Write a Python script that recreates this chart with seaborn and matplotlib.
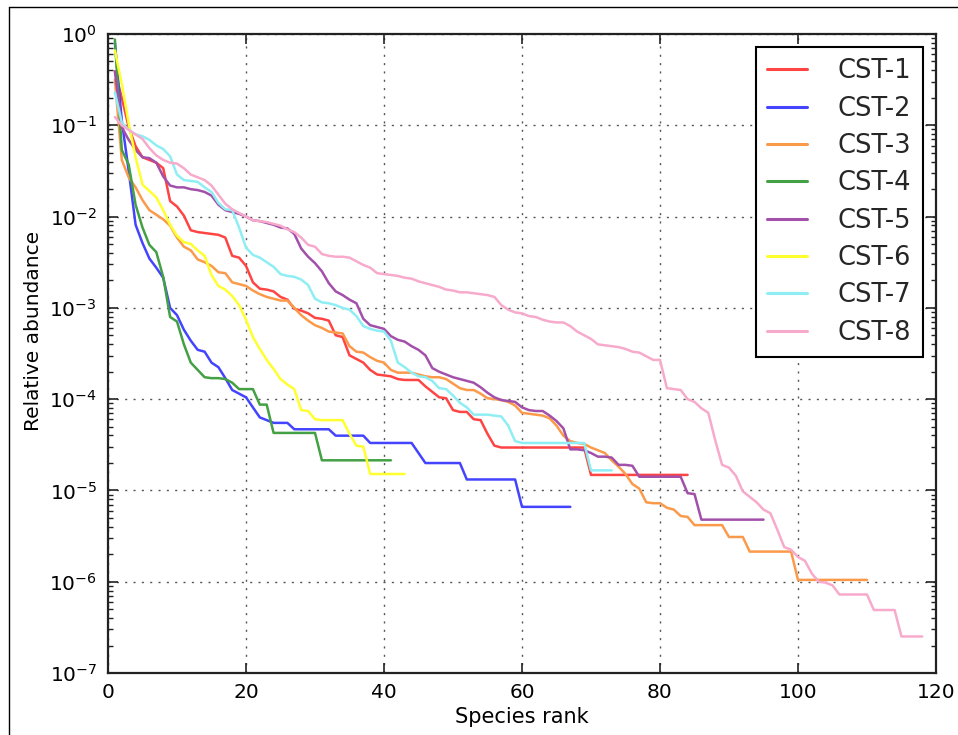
import numpy as np
import pandas as pd
import matplotlib
matplotlib.use("Agg")
import matplotlib.pyplot as plt
import seaborn as sns
from matplotlib.ticker import LogLocator, FuncFormatter, NullFormatter
from matplotlib.lines import Line2D

# Community state types and their rank-abundance curves (log10 of relative abundance,
# listed by species rank starting at 1)
series_names = ["CST-1", "CST-2", "CST-3", "CST-4", "CST-5", "CST-6", "CST-7", "CST-8"]

cst1_log10 = [
    -0.41, -0.70, -1.02, -1.23, -1.35, -1.38, -1.41, -1.47, -1.83, -1.89,
    -1.99, -2.15, -2.17, -2.18, -2.19, -2.20, -2.23, -2.43, -2.45, -2.54,
    -2.72, -2.79, -2.80, -2.82, -2.88, -2.91, -3.01, -3.03, -3.06, -3.11,
    -3.12, -3.14, -3.30, -3.32, -3.52, -3.56, -3.60, -3.68, -3.73, -3.74,
    -3.75, -3.78, -3.79, -3.79, -3.79, -3.86, -3.92, -3.98, -3.99, -4.12,
    -4.14, -4.14, -4.22, -4.23, -4.38, -4.51, -4.53, -4.53, -4.53, -4.53,
    -4.53, -4.53, -4.53, -4.53, -4.53, -4.53, -4.53, -4.53, -4.53, -4.83,
    -4.83, -4.83, -4.83, -4.83, -4.83, -4.83, -4.83, -4.83, -4.83, -4.83,
    -4.83, -4.83, -4.83, -4.83,
]

cst2_log10 = [
    -0.10, -0.95, -1.50, -2.09, -2.29, -2.46, -2.56, -2.67, -3.00, -3.08,
    -3.24, -3.36, -3.46, -3.48, -3.60, -3.65, -3.77, -3.90, -3.94, -3.98,
    -4.09, -4.20, -4.23, -4.26, -4.26, -4.26, -4.33, -4.33, -4.33, -4.33,
    -4.33, -4.33, -4.40, -4.40, -4.40, -4.40, -4.40, -4.48, -4.48, -4.48,
    -4.48, -4.48, -4.48, -4.48, -4.59, -4.70, -4.70, -4.70, -4.70, -4.70,
    -4.70, -4.88, -4.88, -4.88, -4.88, -4.88, -4.88, -4.88, -4.88, -5.18,
    -5.18, -5.18, -5.18, -5.18, -5.18, -5.18, -5.18,
]

cst3_log10 = [
    -0.50, -1.38, -1.57, -1.68, -1.82, -1.93, -1.98, -2.03, -2.10, -2.23,
    -2.33, -2.37, -2.47, -2.50, -2.54, -2.61, -2.62, -2.72, -2.74, -2.76,
    -2.81, -2.85, -2.88, -2.90, -2.92, -2.92, -3.00, -3.08, -3.14, -3.19,
    -3.22, -3.26, -3.27, -3.28, -3.42, -3.48, -3.49, -3.54, -3.58, -3.60,
    -3.68, -3.71, -3.71, -3.71, -3.73, -3.75, -3.76, -3.76, -3.78, -3.83,
    -3.88, -3.90, -3.90, -3.94, -3.99, -4.00, -4.01, -4.03, -4.07, -4.15,
    -4.16, -4.17, -4.18, -4.21, -4.29, -4.40, -4.46, -4.48, -4.49, -4.53,
    -4.56, -4.59, -4.67, -4.74, -4.82, -4.93, -4.98, -5.13, -5.14, -5.14,
    -5.19, -5.21, -5.28, -5.29, -5.38, -5.38, -5.38, -5.38, -5.38, -5.51,
    -5.51, -5.51, -5.67, -5.67, -5.67, -5.67, -5.67, -5.67, -5.67, -5.98,
    -5.98, -5.98, -5.98, -5.98, -5.98, -5.98, -5.98, -5.98, -5.98, -5.98,
]

cst4_log10 = [
    -0.06, -1.27, -1.43, -1.87, -2.12, -2.31, -2.39, -2.66, -3.10, -3.15,
    -3.40, -3.60, -3.68, -3.76, -3.77, -3.77, -3.78, -3.82, -3.89, -3.89,
    -3.89, -4.06, -4.06, -4.37, -4.37, -4.37, -4.37, -4.37, -4.37, -4.37,
    -4.67, -4.67, -4.67, -4.67, -4.67, -4.67, -4.67, -4.67, -4.67, -4.67,
    -4.67,
]

cst5_log10 = [
    -0.41, -1.02, -1.16, -1.27, -1.35, -1.36, -1.41, -1.56, -1.66, -1.68,
    -1.68, -1.70, -1.71, -1.73, -1.77, -1.87, -1.93, -1.95, -1.97, -2.00,
    -2.04, -2.05, -2.07, -2.09, -2.12, -2.13, -2.19, -2.35, -2.44, -2.51,
    -2.60, -2.73, -2.82, -2.86, -2.91, -2.95, -3.12, -3.19, -3.21, -3.23,
    -3.31, -3.35, -3.37, -3.42, -3.46, -3.52, -3.66, -3.70, -3.73, -3.76,
    -3.78, -3.80, -3.82, -3.87, -3.93, -3.98, -4.01, -4.02, -4.03, -4.09,
    -4.12, -4.13, -4.13, -4.18, -4.24, -4.32, -4.55, -4.55, -4.56, -4.59,
    -4.63, -4.63, -4.64, -4.72, -4.72, -4.73, -4.85, -4.85, -4.85, -4.85,
    -4.85, -4.85, -4.85, -5.03, -5.04, -5.32, -5.32, -5.32, -5.32, -5.32,
    -5.32, -5.32, -5.32, -5.32, -5.32,
]

cst6_log10 = [
    -0.18, -0.55, -0.98, -1.35, -1.65, -1.72, -1.79, -1.93, -2.09, -2.21,
    -2.28, -2.30, -2.37, -2.43, -2.64, -2.76, -2.80, -2.87, -2.97, -3.13,
    -3.32, -3.45, -3.57, -3.67, -3.78, -3.84, -3.89, -4.12, -4.13, -4.22,
    -4.23, -4.23, -4.23, -4.23, -4.38, -4.51, -4.52, -4.82, -4.82, -4.82,
    -4.82, -4.82, -4.82,
]

cst7_log10 = [
    -0.64, -0.97, -1.05, -1.10, -1.12, -1.16, -1.22, -1.26, -1.34, -1.54,
    -1.60, -1.61, -1.62, -1.68, -1.73, -1.85, -1.92, -1.93, -2.12, -2.34,
    -2.42, -2.45, -2.50, -2.55, -2.63, -2.65, -2.66, -2.69, -2.75, -2.90,
    -2.94, -2.95, -2.97, -3.00, -3.02, -3.09, -3.20, -3.23, -3.25, -3.26,
    -3.36, -3.60, -3.65, -3.71, -3.75, -3.76, -3.80, -3.88, -3.89, -3.96,
    -4.04, -4.09, -4.17, -4.17, -4.17, -4.18, -4.19, -4.29, -4.46, -4.48,
    -4.48, -4.48, -4.48, -4.48, -4.48, -4.48, -4.48, -4.48, -4.48, -4.78,
    -4.78, -4.78, -4.78,
]

cst8_log10 = [
    -0.91, -1.00, -1.05, -1.10, -1.15, -1.25, -1.33, -1.38, -1.41, -1.42,
    -1.47, -1.54, -1.57, -1.60, -1.66, -1.76, -1.86, -1.92, -1.96, -2.00,
    -2.04, -2.05, -2.06, -2.08, -2.10, -2.14, -2.17, -2.23, -2.31, -2.33,
    -2.41, -2.43, -2.44, -2.44, -2.45, -2.49, -2.53, -2.56, -2.62, -2.63,
    -2.64, -2.65, -2.67, -2.68, -2.71, -2.73, -2.75, -2.77, -2.80, -2.81,
    -2.83, -2.83, -2.84, -2.85, -2.86, -2.88, -2.97, -3.02, -3.05, -3.06,
    -3.09, -3.10, -3.13, -3.15, -3.16, -3.16, -3.20, -3.26, -3.30, -3.34,
    -3.40, -3.41, -3.42, -3.43, -3.45, -3.48, -3.49, -3.53, -3.57, -3.57,
    -3.88, -3.89, -3.90, -4.00, -4.03, -4.10, -4.15, -4.45, -4.72, -4.75,
    -4.84, -5.01, -5.07, -5.13, -5.21, -5.25, -5.43, -5.62, -5.65, -5.73,
    -5.77, -5.91, -6.00, -6.01, -6.04, -6.14, -6.14, -6.14, -6.14, -6.14,
    -6.31, -6.31, -6.31, -6.31, -6.60, -6.60, -6.60, -6.60,
]

series_log10 = [cst1_log10, cst2_log10, cst3_log10, cst4_log10,
                cst5_log10, cst6_log10, cst7_log10, cst8_log10]

line_colors = ["#FF4444", "#4444FF", "#FA9A4A", "#44A044",
               "#A250AA", "#FFFF30", "#8EEEF4", "#F7AACB"]

x_ticks = [0, 20, 40, 60, 80, 100, 120]

# Long-form table: one row per (group, rank)
frames = []
for name, vals in zip(series_names, series_log10):
    frames.append(pd.DataFrame({
        "rank": np.arange(1, len(vals) + 1),
        "abundance": np.power(10.0, np.asarray(vals)),
        "group": name,
    }))
df = pd.concat(frames, ignore_index=True)

sns.set_theme(style="ticks")
plt.rcParams["font.family"] = ["DejaVu Sans"]
plt.rcParams["mathtext.fontset"] = "dejavusans"

W, H = 958, 735
fig = plt.figure(figsize=(W / 100, H / 100), dpi=100)
fig.patch.set_facecolor("white")
ax_left, ax_right, ax_top, ax_bottom = 108, 936, 34, 673
ax = fig.add_axes([ax_left / W, 1 - ax_bottom / H,
                   (ax_right - ax_left) / W, (ax_bottom - ax_top) / H])
ax.set_facecolor("white")

sns.lineplot(data=df, x="rank", y="abundance", hue="group",
             hue_order=series_names, palette=dict(zip(series_names, line_colors)),
             estimator=None, sort=False, linewidth=1.8, ax=ax, zorder=3)

ax.set_yscale("log")
ax.set_ylim(1e-7, 1)
ax.set_xlim(0, 120)
ax.set_xticks(x_ticks)
ax.yaxis.set_major_locator(LogLocator(base=10, numticks=20))
ax.yaxis.set_minor_locator(LogLocator(base=10, subs=np.arange(2, 10), numticks=100))
ax.yaxis.set_minor_formatter(NullFormatter())
ax.yaxis.set_major_formatter(FuncFormatter(lambda v, p: r"$10^{%d}$" % round(np.log10(v))))

ax.tick_params(which="both", direction="in", top=True, right=True,
               color="#222222", labelcolor="black")
ax.tick_params(which="major", length=7, width=1.2, labelsize=14.5)
ax.tick_params(which="minor", length=3.5, width=1.0)
ax.tick_params(axis="x", which="major", pad=7)
ax.tick_params(axis="y", which="major", pad=8)
for sp in ax.spines.values():
    sp.set_linewidth(1.6)
    sp.set_color("#222222")

ax.grid(True, which="major", color="#555555", linewidth=1.0,
        linestyle=(0, (1.5, 4.5)), zorder=0)
ax.set_axisbelow(True)

ax.set_xlabel("Species rank", fontsize=15, color="black")
ax.set_ylabel("Relative abundance", fontsize=14.5, color="black")
ax.xaxis.set_label_coords(0.5, -0.053)
ax.yaxis.set_label_coords(-0.078, 0.535)

handles, labels = ax.get_legend_handles_labels()
pairs = [(h, l) for h, l in zip(handles, labels) if l in series_names]
leg = ax.legend([p[0] for p in pairs], [p[1] for p in pairs],
                loc="upper right", fontsize=18.5, frameon=True, fancybox=False,
                framealpha=1, edgecolor="black", handlelength=1.55,
                handletextpad=1.2, labelspacing=0.44, borderpad=0.45,
                borderaxespad=0.5)
leg.get_frame().set_linewidth(1.5)
for lh in leg.get_lines():
    lh.set_linewidth(2.2)

# Thin outer frame around the figure
fig.add_artist(Line2D([9 / W, 9 / W], [0, 1 - 7 / H], transform=fig.transFigure,
                      color="black", linewidth=1.0))
fig.add_artist(Line2D([9 / W, 1], [1 - 7 / H, 1 - 7 / H], transform=fig.transFigure,
                      color="black", linewidth=1.0))

fig.savefig("out.png", dpi=100, facecolor="white")
